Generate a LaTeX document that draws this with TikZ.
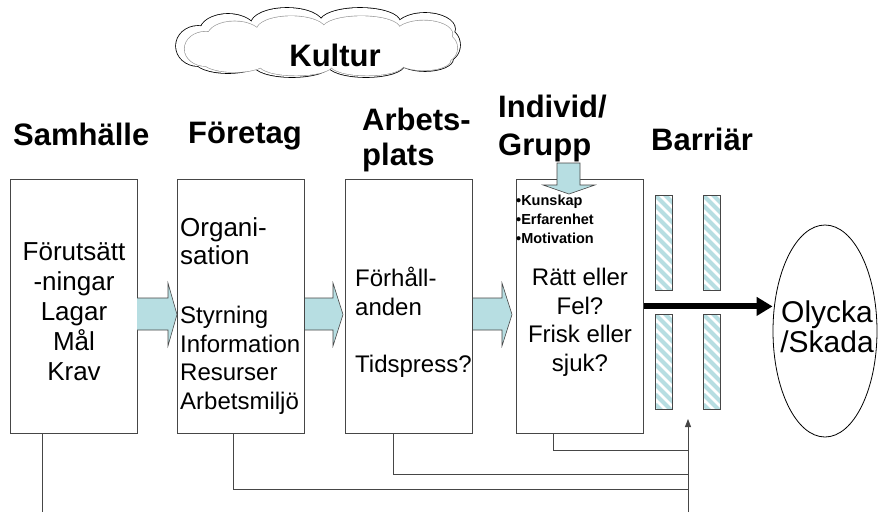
\documentclass[tikz,border=0pt]{standalone}
\usepackage{fontspec}
\setmainfont{Liberation Sans}
\usetikzlibrary{shapes.geometric,arrows.meta}
\definecolor{ablue}{RGB}{183,222,226}
\definecolor{lgray}{RGB}{70,70,70}
\newcommand\kcloud{%
 (317,45) ellipse [x radius=110, y radius=20]
 (390,42) ellipse [x radius=48, y radius=19]
 (240,45) ellipse [x radius=45, y radius=19]
 (198,46) ellipse [x radius=22, y radius=20]
 (228,31) ellipse [x radius=28, y radius=17]
 (287,24) ellipse [x radius=36, y radius=16]
 (360,22) ellipse [x radius=40, y radius=14]
 (425,29) ellipse [x radius=30, y radius=16]
 (444,45) ellipse [x radius=16, y radius=17]
 (228,61) ellipse [x radius=33, y radius=12]
 (292,65) ellipse [x radius=38, y radius=12]
 (366,65) ellipse [x radius=38, y radius=12]
 (425,59) ellipse [x radius=28, y radius=12]}
\begin{document}
\begin{tikzpicture}[x=1pt,y=-1pt,
  box/.style={draw=lgray,line width=0.8pt,fill=white,inner sep=0pt,minimum width=127pt,minimum height=254pt,anchor=north west},
  hd/.style={font=\fontsize{31}{35}\selectfont\bfseries,inner sep=0pt},
  tbig/.style={font=\fontsize{26}{30}\selectfont,inner sep=0pt},
  tmid/.style={font=\fontsize{24}{28}\selectfont,inner sep=0pt},
  tbul/.style={font=\fontsize{14.5}{17}\selectfont\bfseries,inner sep=0pt},
  barrow/.style={fill=ablue,draw=lgray,line width=0.6pt,line join=miter},
  stripbox/.style={draw=lgray,line width=0.8pt,minimum width=17pt,minimum height=95pt,inner sep=0pt,anchor=north west,
    path picture={\foreach \k in {-30,-20,...,120}{\draw[ablue,line width=4pt] ([yshift=-\k pt]path picture bounding box.north west) -- ++(30pt,-30pt);}}},
  conn/.style={draw=lgray,line width=0.8pt}
]
\useasboundingbox (0,0) rectangle (879,512);
% cloud
\draw[black,line width=1.6pt] \kcloud;
\fill[white] \kcloud;
\begin{scope}[shift={(320,48)},xscale=0.96,yscale=0.86,shift={(-317,-45)}]
\draw[black!40,line width=1.3pt] \kcloud;
\fill[white] \kcloud;
\end{scope}
\node[hd,anchor=base] (kultur) at (335,66) {Kultur};
% boxes
\node[box] (b1) at (10,179) {};
\node[box] (b2) at (177,179) {};
\node[box] (b3) at (345,179) {};
\node[box] (b4) at (516,179) {};
% block arrows
\draw[barrow] (137,298) -- (168,298) -- (168,283) -- (177,314.5) -- (168,346) -- (168,330) -- (137,330);
\draw[barrow] (305,298) -- (333,298) -- (333,283) -- (343,314.5) -- (333,346) -- (333,330) -- (305,330);
\draw[barrow] (473,298) -- (502,298) -- (502,283) -- (512,314.5) -- (502,346) -- (502,330) -- (473,330);
\draw[barrow] (557,163) -- (580,163) -- (580,185) -- (595,185) -- (569,194) -- (543,185) -- (557,185) -- cycle;
% barriers
\node[stripbox] (s1) at (655,195) {};
\node[stripbox] (s2) at (703,195) {};
\node[stripbox] (s3) at (655,314) {};
\node[stripbox] (s4) at (703,314) {};
% ellipse
\node[draw=black,line width=0.8pt,ellipse,minimum width=104pt,minimum height=212pt,inner sep=0pt] (ell) at (825,331) {};
\node[font=\fontsize{30}{34}\selectfont,inner sep=0pt,anchor=base] (ol1) at (827,322) {Olycka};
\node[font=\fontsize{30}{34}\selectfont,inner sep=0pt,anchor=base] (ol2) at (827,352) {/Skada};
% headings
\node[hd,anchor=base west] (h1) at (13,145) {Samhälle};
\node[hd,anchor=base west] (h2) at (188,143) {Företag};
\node[hd,anchor=base west] (h3a) at (362,130) {Arbets-};
\node[hd,anchor=base west] (h3b) at (362,165) {plats};
\node[hd,anchor=base west] (h4a) at (498,117) {Individ/};
\node[hd,anchor=base west] (h4b) at (498,155) {Grupp};
\node[hd,anchor=base west] (h5) at (651,150) {Barriär};
% box texts
\foreach \t [count=\i] in {Förutsätt,-ningar,Lagar,Mål,Krav}
  \node[tbig,anchor=base] (b1t\i) at (74,230+30*\i) {\t};
\node[tbig,anchor=base west] (b2ta) at (180,236) {Organi-};
\node[tbig,anchor=base west] (b2tb) at (180,264) {sation};
\foreach \t [count=\i] in {Styrning,Information,Resurser,Arbetsmiljö}
  \node[tmid,anchor=base west] (b2t\i) at (180,295+28.5*\i) {\t};
\node[tmid,anchor=base west] (b3t1) at (355,286) {Förhåll-};
\node[tmid,anchor=base west] (b3t2) at (355,315) {anden};
\node[tmid,anchor=base west] (b3t3) at (355,372) {Tidspress?};
\foreach \t [count=\i] in {Rätt eller,Fel?,Frisk eller,sjuk?}
  \node[tmid,anchor=base] (b4t\i) at (580,257+28.5*\i) {\t};
\foreach \t [count=\i] in {Kunskap,Erfarenhet,Motivation}
  \node[tbul,anchor=base west] (bu\i) at (516,186+19*\i) {•\t};
% main arrow
\draw[line width=6pt,-{Triangle[length=16pt,width=18pt]}] (b4.east) -- (b4.east -| ell.west);
% feedback lines
\coordinate (bus) at (688,512);
\coordinate (tipA) at (688,419);
\coordinate (j2) at (688,489);
\coordinate (j3) at (688,474);
\coordinate (j4) at (688,450);
\coordinate (e1) at (42,512);
\draw[conn] ([xshift=32pt]b1.south west) -- (e1);
\draw[conn] ([xshift=56pt]b2.south west) |- (j2);
\draw[conn] ([xshift=48pt]b3.south west) |- (j3);
\draw[conn] ([xshift=37pt]b4.south west) |- (j4);
\draw[conn,-{Triangle[length=8pt,width=6pt]}] (bus) -- (tipA);
\end{tikzpicture}
\end{document}
